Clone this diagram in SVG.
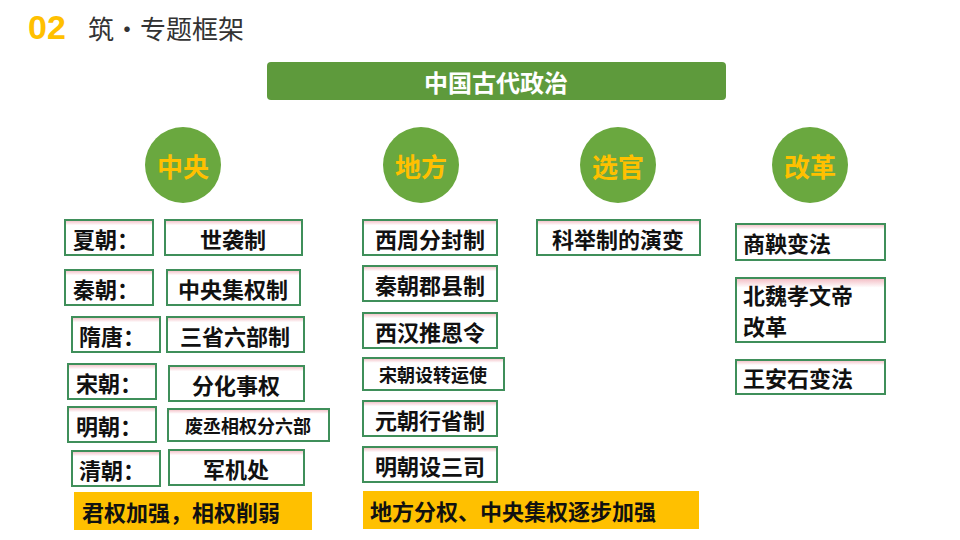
<svg xmlns="http://www.w3.org/2000/svg" width="960" height="540" viewBox="0 0 960 540">
<defs>
<linearGradient id="bg" x1="0" y1="0" x2="0" y2="1"><stop offset="0" stop-color="#f2b8c0"/><stop offset="0.15" stop-color="#ffffff"/><stop offset="1" stop-color="#ffffff"/></linearGradient>
</defs>
<style>
.b{fill:url(#bg);stroke:#3f8f5a;stroke-width:2}
.t{font-family:"Noto Sans CJK SC","Liberation Sans",sans-serif;font-weight:bold;font-size:22px;fill:#111;dominant-baseline:central}
.s{font-size:18px}
.c{fill:#6aa83f}
.ct{font-family:"Noto Sans CJK SC",sans-serif;font-weight:bold;font-size:26px;fill:#ffc000;text-anchor:middle;dominant-baseline:central}
.y{fill:#ffc000}
</style>
<rect width="960" height="540" fill="#fff"/>
<g id="title">
<text x="28" y="27" font-family="Liberation Sans,sans-serif" font-weight="bold" font-size="34" fill="#ffc000" dominant-baseline="central">02</text>
<text x="88" y="27" font-family="Noto Sans CJK SC,sans-serif" font-size="26" fill="#333" dominant-baseline="central">筑·专题框架</text>
</g>
<g id="header"><rect x="267" y="62" width="459" height="38" rx="4" fill="#5e9a3c"/><text x="496" y="81" class="ct" style="fill:#fff;font-size:24px">中国古代政治</text></g>
<g id="c1"><circle cx="183" cy="165" r="38" class="c"/><text x="183" y="165" class="ct">中央</text></g>
<g id="c2"><circle cx="421" cy="165" r="38" class="c"/><text x="421" y="165" class="ct">地方</text></g>
<g id="c3"><circle cx="618" cy="165" r="38" class="c"/><text x="618" y="165" class="ct">选官</text></g>
<g id="c4"><circle cx="810" cy="165" r="38" class="c"/><text x="810" y="165" class="ct">改革</text></g>
<g id="l1"><rect x="65" y="220" width="88" height="35" class="b"/><text x="73" y="238" class="t">夏朝：</text></g>
<g id="r1"><rect x="165" y="220" width="137" height="35" class="b"/><text x="233" y="238" class="t" text-anchor="middle">世袭制</text></g>
<g id="l2"><rect x="65" y="270" width="88" height="35" class="b"/><text x="73" y="288" class="t">秦朝：</text></g>
<g id="r2"><rect x="167" y="270" width="133" height="35" class="b"/><text x="233" y="288" class="t" text-anchor="middle">中央集权制</text></g>
<g id="l3"><rect x="72" y="317" width="88" height="35" class="b"/><text x="79" y="335" class="t">隋唐：</text></g>
<g id="r3"><rect x="167" y="317" width="137" height="35" class="b"/><text x="235" y="335" class="t" text-anchor="middle">三省六部制</text></g>
<g id="l4"><rect x="68" y="364" width="88" height="35" class="b"/><text x="76" y="382" class="t">宋朝：</text></g>
<g id="r4"><rect x="169" y="366" width="135" height="35" class="b"/><text x="236" y="384" class="t" text-anchor="middle">分化事权</text></g>
<g id="l5"><rect x="68" y="407" width="88" height="35" class="b"/><text x="76" y="425" class="t">明朝：</text></g>
<g id="r5"><rect x="168" y="409" width="161" height="32" class="b"/><text x="248" y="425" class="t s" text-anchor="middle">废丞相权分六部</text></g>
<g id="l6"><rect x="72" y="451" width="88" height="35" class="b"/><text x="79" y="469" class="t">清朝：</text></g>
<g id="r6"><rect x="169" y="450" width="135" height="35" class="b"/><text x="236" y="468" class="t" text-anchor="middle">军机处</text></g>
<g id="sum1"><rect x="74" y="492" width="238" height="38" class="y"/><text x="82" y="511" class="t">君权加强，相权削弱</text></g>
<g id="m1"><rect x="363" y="220" width="134" height="35" class="b"/><text x="430" y="238" class="t" text-anchor="middle">西周分封制</text></g>
<g id="m2"><rect x="363" y="266" width="134" height="35" class="b"/><text x="430" y="284" class="t" text-anchor="middle">秦朝郡县制</text></g>
<g id="m3"><rect x="363" y="313" width="134" height="35" class="b"/><text x="430" y="331" class="t" text-anchor="middle">西汉推恩令</text></g>
<g id="m4"><rect x="363" y="358" width="141" height="32" class="b"/><text x="433" y="374" class="t s" text-anchor="middle">宋朝设转运使</text></g>
<g id="m5"><rect x="363" y="401" width="134" height="35" class="b"/><text x="430" y="419" class="t" text-anchor="middle">元朝行省制</text></g>
<g id="m6"><rect x="363" y="447" width="134" height="35" class="b"/><text x="430" y="465" class="t" text-anchor="middle">明朝设三司</text></g>
<g id="sum2"><rect x="363" y="491" width="336" height="38" class="y"/><text x="370" y="510" class="t">地方分权、中央集权逐步加强</text></g>
<g id="x1"><rect x="537" y="220" width="163" height="35" class="b"/><text x="618" y="238" class="t" text-anchor="middle">科举制的演变</text></g>
<g id="g1"><rect x="736" y="224" width="149" height="36" class="b"/><text x="743" y="242" class="t">商鞅变法</text></g>
<g id="g2"><rect x="736" y="278" width="149" height="64" class="b"/><text x="743" y="294" class="t">北魏孝文帝</text><text x="743" y="325" class="t">改革</text></g>
<g id="g3"><rect x="736" y="360" width="149" height="34" class="b"/><text x="743" y="377" class="t">王安石变法</text></g>
<g id="connectors"/>
</svg>
